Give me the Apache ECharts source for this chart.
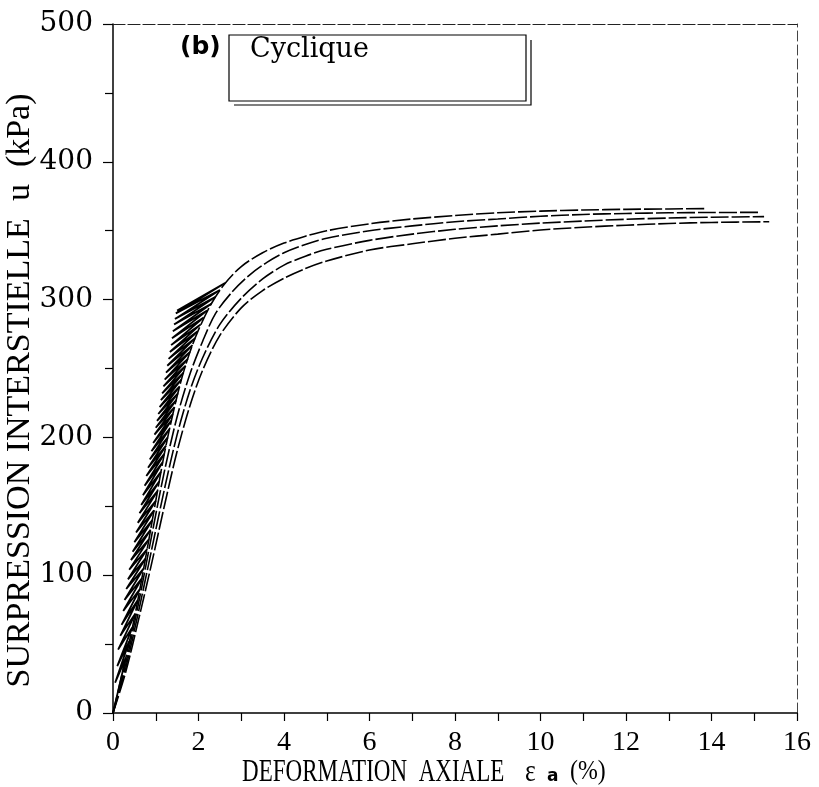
<!DOCTYPE html>
<html>
<head>
<meta charset="utf-8">
<script src="https://cdn.jsdelivr.net/npm/echarts@6/dist/echarts.min.js"></script>
<style>
html,body{margin:0;padding:0;background:#fff;}
#chart{width:819px;height:787px;}
</style>
</head>
<body>
<div id="chart"></div>
<script>
// ---- data (x = axial strain %, u = pore pressure kPa) ----
const curveA = [[0,0],[0.3,40],[0.52,72],[0.8,119],[1.0,154],[1.2,188],[1.4,217],[1.6,242],[1.8,262],[2.0,278],[2.3,297],[2.6,311],[3.0,324],[3.5,334],[4,341],[4.5,346],[5,350],[6,355],[7,358.5],[8,361],[9,363],[10,364.2],[11,365],[12,365.5],[13,365.8],[13.89,366]];
const curveB = [[0,0],[0.3,36],[0.6,80],[0.9,128],[1.2,175],[1.5,215],[1.8,246],[2.1,270],[2.4,290],[2.8,306],[3.2,318],[3.6,327],[4,334],[4.5,340],[5,344.5],[6,350],[7,353.5],[8,356.5],[9,358.5],[10,360.5],[11,361.8],[12,362.5],[13,363],[14,363.2],[15.12,363.3]];
const curveC = [[0,0],[0.3,33],[0.6,74],[0.9,118],[1.2,162],[1.5,202],[1.8,234],[2.1,258],[2.5,282],[3,301],[3.5,315],[4,325],[4.5,331.5],[5,336.5],[6,343],[7,347.5],[8,351],[9,353.5],[10,355.5],[11,357],[12,358.3],[13,359.2],[14,359.8],[15.23,360.2]];
const curveD = [[0,0],[0.3,30],[0.6,68],[0.9,108],[1.2,150],[1.5,190],[1.8,223],[2.1,249],[2.5,274],[3,294],[3.5,306.5],[4,315.5],[4.5,322.5],[5,328],[6,336],[7,340.5],[8,344.5],[9,347.5],[10,350.5],[11,352.5],[12,354],[13,355.2],[14,356],[15.35,356.5]];
const cyclePeaks = [[0.30,40],[0.38,52],[0.45,62],[0.52,72],[0.58,82],[0.63,90],[0.68,98],[0.72,105],[0.76,112],[0.80,119],[0.84,126],[0.88,133],[0.92,140],[0.96,147],[1.00,154],[1.04,161],[1.08,168],[1.12,175],[1.16,182],[1.20,188],[1.24,194],[1.28,200],[1.32,206],[1.36,212],[1.40,217],[1.44,222],[1.48,227],[1.52,232],[1.56,237],[1.60,242],[1.65,247],[1.70,252],[1.75,257],[1.80,262],[1.86,267],[1.92,272],[1.98,277],[2.05,282],[2.12,287],[2.20,292],[2.30,297],[2.40,302],[2.50,307],[2.62,312]];
const cycleTroughs = [[0.05,22],[0.10,34],[0.12,46],[0.17,56],[0.20,64],[0.24,74],[0.27,82],[0.31,90],[0.35,97],[0.38,104],[0.42,111],[0.46,117],[0.50,124],[0.54,131],[0.58,138],[0.62,145],[0.66,151],[0.70,158],[0.74,165],[0.78,172],[0.82,178],[0.86,184],[0.90,190],[0.94,196],[0.97,202],[1.00,207],[1.03,212],[1.06,217],[1.09,222],[1.12,227],[1.15,232],[1.18,237],[1.21,242],[1.24,247],[1.27,252],[1.30,257],[1.33,262],[1.36,267],[1.38,272],[1.40,277],[1.43,282],[1.45,286],[1.47,290],[1.50,292]];
const xMin = 0, xMax = 16, xStep = 2;
const yMin = 0, yMax = 500, yStep = 100;
const xTitle = 'DEFORMATION  AXIALE';
const xSymbol = '\u03b5';
const xSub = 'a';
const xUnit = '(%)';
const yTitle = 'SURPRESSION INTERSTIELLE  u  (kPa)';
const legendText = 'Cyclique';
const panelTag = '(b)';

// zigzag path of the cyclic loading: start at origin, then peak -> trough -> next peak
const cyclic = [[0,0]];
for (let i = 0; i < cyclePeaks.length; i++) {
  cyclic.push(cyclePeaks[i]);
  cyclic.push(cycleTroughs[i]);
}
cyclic.push(cyclePeaks[cyclePeaks.length - 1]);

const chart = echarts.init(document.getElementById('chart'), null, {renderer: 'canvas'});
const serif = 'Liberation Serif';
const lineStyleCurve = {color: '#000', width: 1.6, type: [18, 3]};
function curveSeries(name, data) {
  return {name: name, type: 'line', data: data, showSymbol: false, symbol: 'none',
    lineStyle: lineStyleCurve, smooth: 0.3, silent: true, z: 3};
}
const option = {
  backgroundColor: '#fff',
  animation: false,
  grid: {left: 113, right: 22, top: 24, bottom: 74, containLabel: false, outerBoundsMode: 'none'},
  xAxis: [{
    type: 'value', min: xMin, max: xMax, interval: xStep, position: 'bottom',
    axisLine: {show: true, onZero: false, lineStyle: {color: '#000', width: 1.5}},
    axisTick: {show: true, inside: false, length: 8, lineStyle: {color: '#000', width: 1.2}},
    minorTick: {show: true, splitNumber: 2, length: 8, lineStyle: {color: '#000', width: 1.2}},
    splitLine: {show: false},
    axisLabel: {fontFamily: serif, fontSize: 28, color: '#000', margin: 16}
  }, {
    type: 'value', min: xMin, max: xMax, position: 'top',
    axisLine: {show: true, onZero: false, lineStyle: {color: '#222', width: 1.2, type: [12, 3]}},
    axisTick: {show: false}, axisLabel: {show: false}, splitLine: {show: false}
  }],
  yAxis: [{
    type: 'value', min: yMin, max: yMax, interval: yStep, position: 'left',
    name: yTitle, nameLocation: 'middle', nameGap: 76, nameRotate: 90, nameMoveOverlap: false,
    nameTextStyle: {fontFamily: serif, fontSize: 34, color: '#000', padding: [0, 44, 0, 0]},
    axisLine: {show: true, onZero: false, lineStyle: {color: '#000', width: 1.5}},
    axisTick: {show: true, inside: false, length: 10, lineStyle: {color: '#000', width: 1.2}},
    minorTick: {show: true, splitNumber: 2, length: 8, lineStyle: {color: '#000', width: 1.2}},
    splitLine: {show: false},
    axisLabel: {fontFamily: 'DejaVu Serif', fontSize: 28, color: '#000', margin: 20}
  }, {
    type: 'value', min: yMin, max: yMax, position: 'right',
    axisLine: {show: true, onZero: false, lineStyle: {color: '#444', width: 1, type: [10, 4]}},
    axisTick: {show: false}, axisLabel: {show: false}, splitLine: {show: false}
  }],
  series: [
    {name: 'Cyclique', type: 'line', data: cyclic, showSymbol: false, symbol: 'none',
     lineStyle: {color: '#000', width: 1.8}, silent: true, z: 4},
    curveSeries('A', curveA),
    curveSeries('B', curveB),
    curveSeries('C', curveC),
    curveSeries('D', curveD)
  ],
  graphic: [
    {type: 'text', left: 180, top: 35, style: {text: panelTag, font: 'bold 25px "DejaVu Sans"', fill: '#000'}},
    {type: 'rect', shape: {x: 229, y: 35, width: 297, height: 66}, style: {fill: 'none', stroke: '#000', lineWidth: 1.2}},
    {type: 'polyline', shape: {points: [[531, 40], [531, 105], [234, 105]]}, style: {fill: 'none', stroke: '#000', lineWidth: 1.2}},
    {type: 'text', left: 250, top: 36, style: {text: legendText, font: '27px "DejaVu Serif"', fill: '#000'}},
    // x-axis title (condensed serif, as in the original)
    {type: 'text', x: 242, y: 757, scaleX: 0.72, style: {text: xTitle, x: 0, y: 0, font: '32px "Liberation Serif"', fill: '#000', verticalAlign: 'top'}},
    {type: 'text', x: 525, y: 757, scaleX: 0.8, style: {text: xSymbol, x: 0, y: 0, font: '32px "Liberation Serif"', fill: '#000', verticalAlign: 'top'}},
    {type: 'text', x: 547, y: 768, style: {text: xSub, x: 0, y: 0, font: 'bold 17px "DejaVu Sans"', fill: '#000', verticalAlign: 'top'}},
    {type: 'text', x: 570, y: 758, scaleX: 0.85, style: {text: xUnit, x: 0, y: 0, font: '28px "Liberation Serif"', fill: '#000', verticalAlign: 'top'}}
  ]
};
chart.setOption(option);
</script>
</body>
</html>
